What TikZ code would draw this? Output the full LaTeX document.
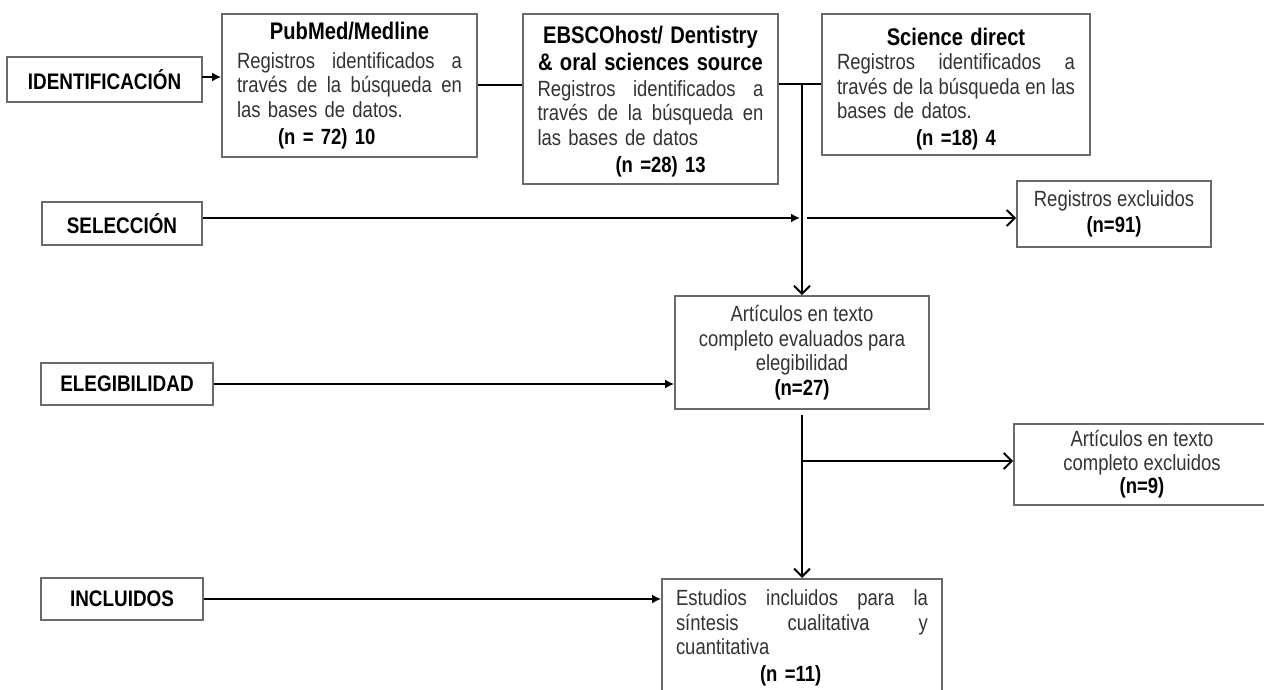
\documentclass[tikz,border=0pt]{standalone}
\usepackage{fontspec}
\newfontfamily\dfont{Liberation Sans}[FakeStretch=0.84]
\usetikzlibrary{arrows.meta}
\definecolor{boxgray}{HTML}{6A6A6A}
\definecolor{txtgray}{HTML}{333333}
% justified line of a given width: words separated by \hfill
\newcommand{\jline}[2]{\makebox[#1][l]{#2}}
\newcommand{\lline}[2]{\makebox[#1][l]{#2}}
\newcommand{\ttl}[1]{{\fontsize{24}{27}\selectfont\bfseries\color{black}#1}}
\newcommand{\nb}[1]{{\bfseries\color{black}#1}}
\tikzset{
  box/.style={draw=boxgray, line width=1.7pt, inner sep=0pt, font=\dfont\fontsize{22}{24.5}\selectfont, text=txtgray, align=center},
  lab/.style={draw=boxgray, line width=1.7pt, inner sep=0pt, font=\dfont\fontsize{22.5}{24}\selectfont\bfseries, text=black},
  conn/.style={line width=2pt, black},
  fa/.style={conn, -{Latex[length=9pt,width=9pt]}},
  oa/.style={conn, -{Straight Barb[length=8pt,width=16pt]}},
}
\begin{document}
\begin{tikzpicture}[x=1pt,y=-1pt]
\fill[white] (0,0) rectangle (1264,690);
\useasboundingbox (0,0) rectangle (1264,690);

% stage labels
\node[lab, minimum width=195pt, minimum height=45pt] (ident) at (104.5,79.5) {IDENTIFICACIÓN};
\node[lab, minimum width=160pt, minimum height=43pt] (sel) at (122,223.5) {SELECCIÓN};
\node[lab, minimum width=172pt, minimum height=42pt] (eleg) at (127,384) {ELEGIBILIDAD};
\node[lab, minimum width=162pt, minimum height=42pt] (incl) at (122,599) {INCLUIDOS};

% sources
\node[box, text width=225pt, minimum width=255pt, minimum height=143pt] (pub) at (349.5,85.5)
 {\ttl{PubMed/Medline}\\[4.5pt]
  \jline{225pt}{Registros\hfill identificados\hfill a}\\
  \jline{225pt}{través\hfill de\hfill la\hfill búsqueda\hfill en}\\
  \lline{225pt}{las bases de datos.}\\[2.5pt]
  \lline{225pt}{\hspace*{41pt}\nb{(n = 72) 10}}};

\node[box, text width=226pt, minimum width=255pt, minimum height=170pt] (ebsco) at (650.5,99)
 {\rule{0pt}{23pt}\ttl{EBSCOhost/ Dentistry}\\[2.5pt]
  \ttl{\& oral sciences source}\\[1pt]
  \jline{226pt}{Registros\hfill identificados\hfill a}\\
  \jline{226pt}{través\hfill de\hfill la\hfill búsqueda\hfill en}\\
  \lline{226pt}{las bases de datos}\\[3pt]
  \lline{226pt}{\hspace*{78pt}\nb{(n =28) 13}}};

\node[box, text width=238pt, minimum width=268pt, minimum height=141pt] (sci) at (956,84.5)
 {\rule{0pt}{27pt}\ttl{Science direct}\\
  \jline{238pt}{Registros\hfill identificados\hfill a}\\
  \jline{238pt}{través\hfill de\hfill la\hfill búsqueda\hfill en\hfill las}\\
  \lline{238pt}{bases de datos.}\\[2.5pt]
  \nb{(n =18) 4}};

% flow boxes
\node[box, minimum width=194pt, minimum height=66pt] (rex) at (1114,214)
 {Registros excluidos\\[1.5pt]\nb{(n=91)}};

\node[box, minimum width=254pt, minimum height=113pt] (art) at (802,352.5)
 {Artículos en texto\\completo evaluados para\\elegibilidad\\\nb{(n=27)}};

\node[box, minimum width=256pt, minimum height=81pt] (aex) at (1142,464.5)
 {Artículos en texto\\[-1pt]completo excluidos\\[-1pt]\nb{(n=9)}};

\node[box, anchor=north, text width=252pt, minimum width=280pt, inner ysep=11pt] (est) at (802,578)
 {\jline{252pt}{Estudios\hfill incluidos\hfill para\hfill la}\\
  \jline{252pt}{síntesis\hfill cualitativa\hfill y}\\
  \lline{252pt}{cuantitativa}\\[2pt]
  \lline{252pt}{\hspace*{84pt}\nb{(n =11)}}\\[20pt]~};

% junction coordinates
\coordinate (j1) at (802,84.5);
\coordinate (s1) at (800,218);
\coordinate (s2) at (807,218);
\coordinate (a1) at (802,415);
\coordinate (a2) at (802,461);
\coordinate (i1) at (202,77);

% connectors
\draw[fa] (i1) -- (i1 -| pub.west);
\draw[conn] (pub.east) -- (pub.east -| ebsco.west);
\draw[conn] (sci.west -| ebsco.east) -- (sci.west);
\draw[oa] (j1) -- (art.north);
\draw[fa] (sel.east |- s1) -- (s1);
\draw[oa] (s2) -- (s2 -| rex.west);
\draw[fa] (eleg.east) -- (eleg.east -| art.west);
\draw[oa] (a1) -- (est.north);
\draw[oa] (a2) -- (a2 -| aex.west);
\draw[fa] (incl.east) -- (incl.east -| est.west);
\end{tikzpicture}
\end{document}
